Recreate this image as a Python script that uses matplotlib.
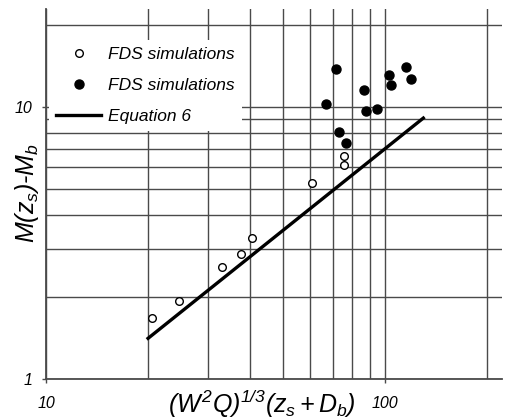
import matplotlib
matplotlib.use('Agg')
import matplotlib.pyplot as plt
from matplotlib.ticker import LogLocator, NullFormatter, FixedLocator, FixedFormatter
import numpy as np

plt.rcParams['font.family'] = ['Liberation Sans', 'DejaVu Sans']
plt.rcParams['mathtext.fontset'] = 'custom'
plt.rcParams['mathtext.rm'] = 'Liberation Sans:italic'
plt.rcParams['mathtext.it'] = 'Liberation Sans:italic'
plt.rcParams['mathtext.bf'] = 'Liberation Sans:italic:bold'

# open circles (first FDS set)
x_open = [20.6, 24.6, 33.0, 37.6, 40.4, 60.8, 75.7, 75.7]
y_open = [1.67, 1.94, 2.58, 2.88, 3.30, 5.24, 6.60, 6.08]

# filled circles (second FDS set)
x_fill = [71.7, 67.1, 73.2, 76.6, 86.9, 88.1, 94.9, 102.7, 104.0, 115.6, 119.6]
y_fill = [13.7, 10.2, 8.08, 7.33, 11.5, 9.65, 9.82, 13.0, 12.0, 14.0, 12.65]

# Equation 6 line end points
x_eq = [20.0, 129.7]
y_eq = [1.41, 9.07]

W, H = 505, 420
fig = plt.figure(figsize=(W / 100, H / 100), dpi=100)
ax = fig.add_axes([46 / W, 1 - 379 / H, (502 - 46) / W, (379 - 9) / H])

ax.set_xscale('log')
ax.set_yscale('log')
ax.set_xlim(10, 221.3)
ax.set_ylim(1, 22.8)

gc = '#4a4a4a'
ax.xaxis.set_major_locator(FixedLocator([10, 100]))
ax.xaxis.set_major_formatter(FixedFormatter(['10', '100']))
ax.yaxis.set_major_locator(FixedLocator([1, 10]))
ax.yaxis.set_major_formatter(FixedFormatter(['1', '10']))
ax.xaxis.set_minor_locator(LogLocator(base=10, subs=np.arange(2, 10)))
ax.yaxis.set_minor_locator(LogLocator(base=10, subs=np.arange(2, 10)))
ax.xaxis.set_minor_formatter(NullFormatter())
ax.yaxis.set_minor_formatter(NullFormatter())
ax.grid(which='both', color=gc, linewidth=1.0)
ax.set_axisbelow(True)

ax.tick_params(which='major', length=3, width=1, color=gc, labelsize=11.5)
ax.tick_params(axis='x', which='major', pad=9)
ax.tick_params(axis='y', which='major', pad=7)
ax.tick_params(which='minor', length=0)
for lab in ax.get_xticklabels() + ax.get_yticklabels():
    lab.set_fontstyle('italic')

for s in ['top', 'right']:
    ax.spines[s].set_visible(False)
for s in ['left', 'bottom']:
    ax.spines[s].set_color(gc)
    ax.spines[s].set_linewidth(1.3)

ax.plot(x_open, y_open, 'o', ms=5.5, mfc='white', mec='black', mew=1.0,
        label='FDS simulations', zorder=3)
ax.plot(x_fill, y_fill, 'o', ms=6.5, mfc='black', mec='black',
        label='FDS simulations', zorder=3)
ax.plot(x_eq, y_eq, '-', color='black', lw=2.4, label='Equation 6', zorder=3)

leg = ax.legend(loc='upper left', bbox_to_anchor=(49 / W, 1 - 40 / H),
                bbox_transform=fig.transFigure, borderaxespad=0,
                frameon=True, fancybox=False, framealpha=1, edgecolor='none',
                facecolor='white', numpoints=1, handlelength=2.6,
                handletextpad=0.4, labelspacing=0.9, borderpad=0.42,
                prop={'family': 'Liberation Sans', 'style': 'italic', 'size': 12.5})

ax.set_xlabel(r'$(W^2Q)^{1/3}(z_s+D_b)$', fontsize=18)
ax.xaxis.set_label_coords(262 / W, 1 - 404 / H, transform=fig.transFigure)
ax.xaxis.label.set_va('center')
ax.set_ylabel(r'$M(z_s)$-$M_b$', fontsize=18, fontstyle='italic')
ax.yaxis.set_label_coords(27 / W, 1 - 193 / H, transform=fig.transFigure)
ax.yaxis.label.set_va('center')

fig.savefig('out.png', dpi=100)
